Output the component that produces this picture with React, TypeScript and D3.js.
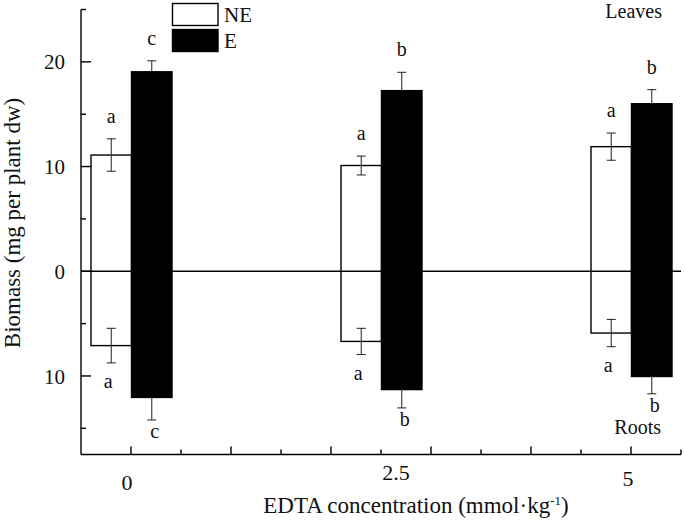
import React from "react";
import * as d3 from "d3";

// ---- data ----
const categories = ["0", "2.5", "5"];
const xValues = [0, 2.5, 5];
const seriesNames = ["NE", "E"];

const leavesNE = [11.1, 10.1, 11.9];
const leavesNEErr = [1.55, 0.9, 1.3];
const leavesE = [19.05, 17.25, 16.0];
const leavesEErr = [1.05, 1.75, 1.35];

const rootsNE = [7.1, 6.7, 5.9];
const rootsNEErr = [1.65, 1.25, 1.3];
const rootsE = [12.05, 11.3, 10.05];
const rootsEErr = [2.15, 1.75, 1.65];

const leavesNELetters = ["a", "a", "a"];
const leavesELetters = ["c", "b", "b"];
const rootsNELetters = ["a", "a", "a"];
const rootsELetters = ["c", "b", "b"];

const yMajorTicks = [-10, 0, 10, 20];
const yMinorTicks = [-15, -5, 5, 15, 25];
const yDomain = [-17.5, 25];
const xDomain = [-0.5, 5.5];

// ---- layout / style ----
const W = 685;
const H = 521;
const FONT = "Liberation Serif";
const x = d3.scaleLinear().domain(xDomain).range([81, 681]);
const y = d3.scaleLinear().domain(yDomain).range([454.5, 9.5]);
const barW = 40.5;
const capHalf = 4.5;
const catLabelDx = [-4, 15, -3];
const catLabelY = [490, 480, 486];
const txt = { fontFamily: FONT, fill: "#111" };

export default function App() {
  const xMajor = d3.range(0, 6, 1);
  const xMinor = d3.range(-0.5, 6, 1).filter((v) => v > -0.5);
  const y0 = y(0);

  const bars: any[] = [];
  xValues.forEach((xv, i) => {
    const cx = x(xv) + 0.5;
    const defs = [
      { key: "ne", x0: cx - barW, fill: "#fff", up: leavesNE[i], upErr: leavesNEErr[i], dn: rootsNE[i], dnErr: rootsNEErr[i], upL: leavesNELetters[i], dnL: rootsNELetters[i], both: true },
      { key: "e", x0: cx, fill: "#000", up: leavesE[i], upErr: leavesEErr[i], dn: rootsE[i], dnErr: rootsEErr[i], upL: leavesELetters[i], dnL: rootsELetters[i], both: false },
    ];
    defs.forEach((d) => {
      const mid = d.x0 + barW / 2;
      const yTop = y(d.up);
      const yBot = y(-d.dn);
      bars.push(
        <rect key={d.key + i} x={d.x0} y={yTop} width={barW} height={yBot - yTop} fill={d.fill} stroke="#000" strokeWidth={1.4} />
      );
      const eTop = y(d.up + d.upErr);
      const eTopIn = d.both ? y(d.up - d.upErr) : yTop;
      const eBot = y(-(d.dn + d.dnErr));
      const eBotIn = d.both ? y(-(d.dn - d.dnErr)) : yBot;
      bars.push(
        <g key={"err" + d.key + i} stroke="#333" strokeWidth={1.1}>
          <line x1={mid} x2={mid} y1={eTop} y2={eTopIn} />
          <line x1={mid - capHalf} x2={mid + capHalf} y1={eTop} y2={eTop} />
          {d.both && <line x1={mid - capHalf} x2={mid + capHalf} y1={eTopIn} y2={eTopIn} />}
          <line x1={mid} x2={mid} y1={eBot} y2={eBotIn} />
          <line x1={mid - capHalf} x2={mid + capHalf} y1={eBot} y2={eBot} />
          {d.both && <line x1={mid - capHalf} x2={mid + capHalf} y1={eBotIn} y2={eBotIn} />}
        </g>
      );
      bars.push(
        <g key={"lab" + d.key + i} style={{ ...txt, fontSize: 20 }} textAnchor="middle">
          <text x={mid} y={eTop - 16}>{d.upL}</text>
          <text x={mid + (d.both ? -3 : 3)} y={eBot + (d.both ? 25 : 18)}>{d.dnL}</text>
        </g>
      );
    });
  });

  return (
    <svg width={W} height={H} style={{ position: "absolute", left: 0, top: 0, background: "#fff" }}>
      <rect x={0} y={0} width={W} height={H} fill="#fff" />
      {bars}
      <line x1={x(xDomain[0])} x2={x(xDomain[1])} y1={y0} y2={y0} stroke="#000" strokeWidth={1.4} />
      <g stroke="#000" strokeWidth={1.4}>
        <line x1={x(xDomain[0])} x2={x(xDomain[0])} y1={y(yDomain[1])} y2={y(yDomain[0])} />
        {yMajorTicks.map((t) => (
          <line key={"ym" + t} x1={x(xDomain[0])} x2={x(xDomain[0]) + 10} y1={y(t)} y2={y(t)} />
        ))}
        {yMinorTicks.map((t) => (
          <line key={"yn" + t} x1={x(xDomain[0])} x2={x(xDomain[0]) + 5} y1={y(t)} y2={y(t)} />
        ))}
      </g>
      <g style={{ ...txt, fontSize: 21 }} textAnchor="end">
        {yMajorTicks.map((t) => (
          <text key={"yl" + t} x={65} y={y(t)} dy="0.36em">
            {Math.abs(t)}
          </text>
        ))}
      </g>
      <g stroke="#000" strokeWidth={1.4}>
        <line x1={x(xDomain[0])} x2={x(xDomain[1])} y1={y(yDomain[0])} y2={y(yDomain[0])} />
        {xMajor.map((t) => (
          <line key={"xm" + t} x1={x(t)} x2={x(t)} y1={y(yDomain[0])} y2={y(yDomain[0]) - 8} />
        ))}
        {xMinor.map((t) => (
          <line key={"xn" + t} x1={x(t)} x2={x(t)} y1={y(yDomain[0])} y2={y(yDomain[0]) - 5} />
        ))}
      </g>
      <g style={{ ...txt, fontSize: 22 }} textAnchor="middle">
        {categories.map((c, i) => (
          <text key={"xl" + c} x={x(xValues[i]) + catLabelDx[i]} y={catLabelY[i]}>
            {c}
          </text>
        ))}
      </g>
      <text x={416} y={513} style={{ ...txt, fontSize: 23 }} textAnchor="middle">
        EDTA concentration (mmol·kg
        <tspan dy={-8} style={{ fontSize: 13 }}>-1</tspan>
        <tspan dy={8}>)</tspan>
      </text>
      <text transform="translate(20,223) rotate(-90)" style={{ ...txt, fontSize: 23 }} textAnchor="middle">
        Biomass (mg per plant dw)
      </text>
      <text x={662} y={18} style={{ ...txt, fontSize: 20 }} textAnchor="end">Leaves</text>
      <text x={661} y={434} style={{ ...txt, fontSize: 20 }} textAnchor="end">Roots</text>
      {seriesNames.map((s, i) => (
        <g key={"lg" + s}>
          <rect x={172.5} y={3.5 + i * 26} width={45.5} height={22} fill={i === 0 ? "#fff" : "#000"} stroke="#000" strokeWidth={1.4} />
          <text x={224} y={22 + i * 25.5} style={{ ...txt, fontSize: 21 }}>{s}</text>
        </g>
      ))}
    </svg>
  );
}
